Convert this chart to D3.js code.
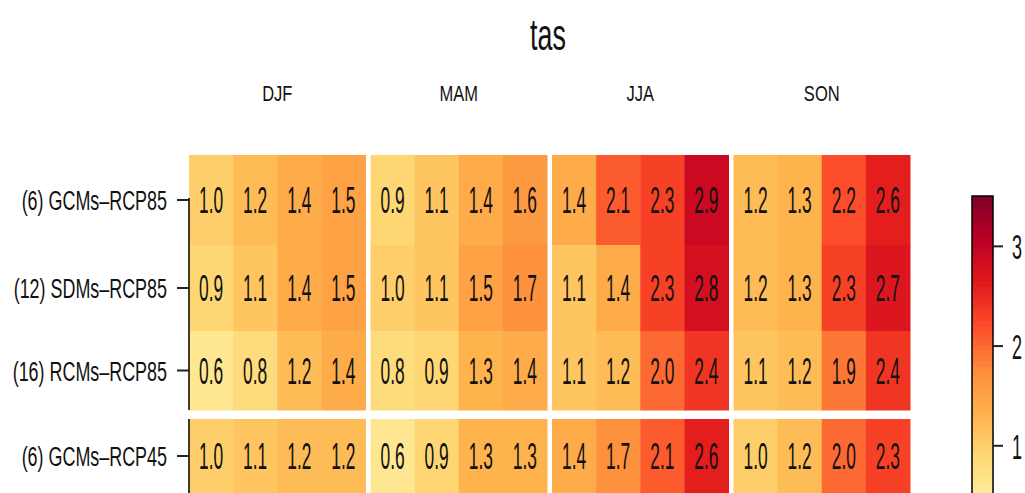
<!DOCTYPE html>
<html>
<head>
<meta charset="utf-8">
<script src="https://cdn.jsdelivr.net/npm/d3@7"></script>
<style>
  body { margin: 0; background: #fff; }
  text { font-family: "Liberation Sans", Arial, sans-serif; fill: #111; }
</style>
</head>
<body>
<div id="chart"></div>
<script>
// Data
//= ================================
var title = "tas";
var seasons = ["DJF", "MAM", "JJA", "SON"];
var rows = ["(6) GCMs\u2013RCP85", "(12) SDMs\u2013RCP85", "(16) RCMs\u2013RCP85", "(6) GCMs\u2013RCP45"];
var periods = ["p1", "p2", "p3", "p4"];

// one array per row, 4 periods for each season in order DJF, MAM, JJA, SON
var gcm85 = [1.0, 1.2, 1.4, 1.5, 0.9, 1.1, 1.4, 1.6, 1.4, 2.1, 2.3, 2.9, 1.2, 1.3, 2.2, 2.6];
var sdm85 = [0.9, 1.1, 1.4, 1.5, 1.0, 1.1, 1.5, 1.7, 1.1, 1.4, 2.3, 2.8, 1.2, 1.3, 2.3, 2.7];
var rcm85 = [0.6, 0.8, 1.2, 1.4, 0.8, 0.9, 1.3, 1.4, 1.1, 1.2, 2.0, 2.4, 1.1, 1.2, 1.9, 2.4];
var gcm45 = [1.0, 1.1, 1.2, 1.2, 0.6, 0.9, 1.3, 1.3, 1.4, 1.7, 2.1, 2.6, 1.0, 1.2, 2.0, 2.3];
var rowValues = [gcm85, sdm85, rcm85, gcm45];

var colorTicks = [1, 2, 3];
var colorMax = 3.5;

// Setup the chart
//= ================================
var svgWidth = 1025;
var svgHeight = 493;

var svg = d3.select("#chart")
    .append("svg")
    .attr("width", svgWidth)
    .attr("height", svgHeight);

// panels (seasons) and columns inside each panel
var panelScale = d3.scaleBand()
    .domain(seasons)
    .range([189, 910])
    .paddingInner(0.0275);

var colScale = d3.scaleBand()
    .domain(periods)
    .range([0, panelScale.bandwidth()]);

// row edges, the screenshot rows are not all the same height
var rowEdge = d3.scaleLinear()
    .domain([0, 1, 2, 3, 4])
    .range([155, 245, 331, 410, 484]);
var groupGap = 9;

function rowTop(i) { return rowEdge(i) + (i >= 3 ? groupGap : 0); }
function rowBottom(i) { return rowEdge(i + 1) + (i >= 3 ? groupGap : 0); }
function rowMid(i) { return (rowTop(i) + rowBottom(i)) / 2; }

// YlOrRd colour scale
var palette = d3.schemeYlOrRd[9];
var color = d3.scaleLinear()
    .domain(palette.map((c, i) => i * colorMax / (palette.length - 1)))
    .range(palette)
    .interpolate(d3.interpolateRgb)
    .clamp(true);

// flatten to cells
var cells = [];
rowValues.forEach(function (vals, r) {
    vals.forEach(function (v, k) {
        cells.push({
            row: r,
            season: seasons[Math.floor(k / 4)],
            period: periods[k % 4],
            value: v
        });
    });
});

// Cells
var cellGroup = svg.append("g");

cellGroup.selectAll("rect")
    .data(cells)
    .enter()
    .append("rect")
    .attr("x", d => panelScale(d.season) + colScale(d.period))
    .attr("y", d => rowTop(d.row))
    .attr("width", colScale.bandwidth() + 0.5)
    .attr("height", d => rowBottom(d.row) - rowTop(d.row) + 0.5)
    .attr("fill", d => color(d.value));

// cell labels, tall narrow digits
var cellFont = 37;
cellGroup.selectAll("text")
    .data(cells)
    .enter()
    .append("text")
    .attr("transform", d => `translate(${panelScale(d.season) + colScale(d.period) + colScale.bandwidth() / 2}, ${rowMid(d.row) + cellFont * 0.36}) scale(0.47, 1)`)
    .attr("text-anchor", "middle")
    .attr("font-size", cellFont + "px")
    .text(d => d.value.toFixed(1));

// Left axis: lines, ticks and row labels
var axisGroup = svg.append("g");

axisGroup.append("line")
    .attr("x1", 189).attr("x2", 189)
    .attr("y1", rowMid(0) - 2).attr("y2", rowBottom(2))
    .attr("stroke", "#000").attr("stroke-width", 1.5);

axisGroup.append("line")
    .attr("x1", 189).attr("x2", 189)
    .attr("y1", rowTop(3)).attr("y2", svgHeight)
    .attr("stroke", "#000").attr("stroke-width", 1.5);

axisGroup.selectAll(".tick")
    .data(rows)
    .enter()
    .append("line")
    .attr("class", "tick")
    .attr("x1", 177).attr("x2", 189)
    .attr("y1", (d, i) => rowMid(i))
    .attr("y2", (d, i) => rowMid(i))
    .attr("stroke", "#222").attr("stroke-width", 2);

var rowFont = 28;
axisGroup.selectAll(".rowLabel")
    .data(rows)
    .enter()
    .append("text")
    .attr("class", "rowLabel")
    .attr("transform", (d, i) => `translate(167, ${rowMid(i) + rowFont * 0.36}) scale(0.64, 1)`)
    .attr("text-anchor", "end")
    .attr("font-size", rowFont + "px")
    .text(d => d);

// Season headers
svg.selectAll(".season")
    .data(seasons)
    .enter()
    .append("text")
    .attr("class", "season")
    .attr("transform", d => `translate(${panelScale(d) + panelScale.bandwidth() / 2}, 101) scale(0.75, 1)`)
    .attr("text-anchor", "middle")
    .attr("font-size", "22px")
    .text(d => d);

// Title
svg.append("text")
    .attr("transform", "translate(548, 50) scale(0.61, 1)")
    .attr("text-anchor", "middle")
    .attr("font-size", "44px")
    .text(title);

// Colour key
//= ================================
var keyX = 972;
var keyWidth = 21;
var keyScale = d3.scaleLinear()
    .domain([0, colorMax])
    .range([545, 196]);

var keyGroup = svg.append("g");
var keyStep = 0.05;

keyGroup.selectAll("rect")
    .data(d3.range(0, colorMax, keyStep))
    .enter()
    .append("rect")
    .attr("x", keyX)
    .attr("y", d => keyScale(d + keyStep))
    .attr("width", keyWidth)
    .attr("height", d => keyScale(d) - keyScale(d + keyStep) + 0.5)
    .attr("fill", d => color(d + keyStep / 2));

keyGroup.append("rect")
    .attr("x", keyX)
    .attr("y", keyScale(colorMax))
    .attr("width", keyWidth)
    .attr("height", keyScale(0) - keyScale(colorMax))
    .attr("fill", "none")
    .attr("stroke", "#000")
    .attr("stroke-width", 1.5);

var keyAxis = d3.axisRight(keyScale)
    .tickValues(colorTicks)
    .tickSize(10)
    .tickPadding(9)
    .tickFormat(d3.format("d"));

var keyAxisGroup = keyGroup.append("g")
    .attr("transform", `translate(${keyX + keyWidth}, 0)`)
    .call(keyAxis);

keyAxisGroup.select(".domain").remove();
keyAxisGroup.selectAll(".tick line")
    .attr("stroke", "#222")
    .attr("stroke-width", 2);
keyAxisGroup.selectAll(".tick text")
    .attr("font-size", "36px")
    .attr("fill", "#111")
    .attr("dy", "0.36em")
    .attr("transform", "translate(19, 0) scale(0.5, 1) translate(-19, 0)");
</script>
</body>
</html>
